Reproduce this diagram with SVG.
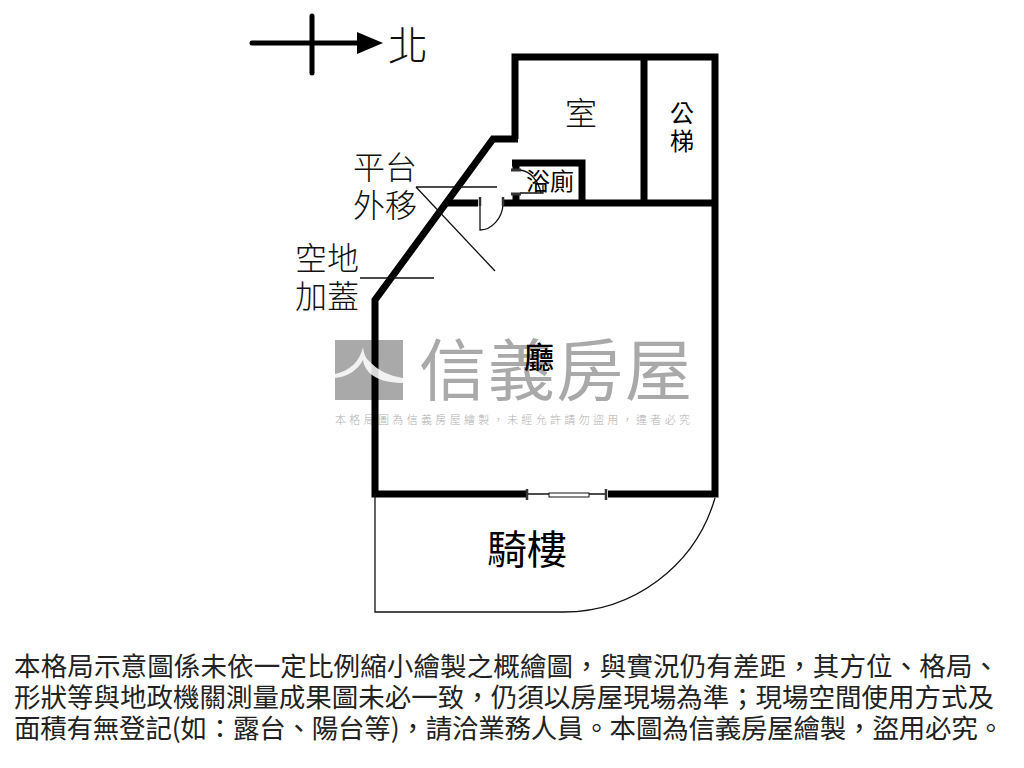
<svg xmlns="http://www.w3.org/2000/svg" width="1024" height="768" viewBox="0 0 1024 768">
<style>
text{font-family:"Noto Sans CJK TC","Noto Sans CJK SC",serif;font-weight:300;fill:#111}
.wall{fill:none;stroke:#000;stroke-width:7;stroke-linejoin:miter}
.thin{fill:none;stroke:#111;stroke-width:1.3}
.foot{font-size:26.5px;font-weight:400;fill:#222}
.dark{font-weight:400;fill:#000}
.wm{fill:#a9a9a9;font-weight:400}
</style>
<rect width="1024" height="768" fill="#fff"/>
<g id="watermark">
<rect x="335" y="340" width="68" height="60" fill="#a9a9a9"/>
<text class="wm" x="419" y="395" font-size="67" textLength="273" lengthAdjust="spacing">信義房屋</text>
<text x="335" y="424" font-size="11" textLength="355" lengthAdjust="spacing" style="fill:#b0b0b0">本格局圖為信義房屋繪製，未經允許請勿盜用，違者必究</text>
</g>
<g id="walls">
<path class="wall" d="M515 139V57H715V494H608M526 494H375V300L493 139H518"/>
<path class="wall" d="M644 57V203"/>
<path class="wall" d="M445 203H478M503 203H715"/>
<path class="wall" d="M512 163H582V203"/>
<path class="wall" d="M516 163V170M516 194V203"/>
</g>
<path d="M335 374C350 371 360 361 363 347C364 355 366 358 368 360C378 371 390 376 403 378V383C392 383 380 381 372 375C368 372 364 367 363 360C358 370 347 377 335 378Z" fill="#fff" opacity=".85"/>
<g id="connectors">
<path class="thin" d="M375 494V612H562A158 158 0 0 0 715 498"/>
<path class="thin" d="M416 187H497M416 187L495 271M360 278H434"/>
<path class="thin" d="M480 197V230C492 230 502 218 503 205"/>
<path class="thin" d="M520 170C530 171 538 180 541 193M520 193H543V185"/>
<path class="thin" d="M527 494H606" stroke-width="1.5"/>
<rect x="549" y="493" width="40" height="4" fill="#fff" stroke="#111" stroke-width="1"/>
<path d="M480 197v9M503 197v9M527 489v11M606 489v11" stroke="#333" stroke-width="2.5" fill="none"/>
<path d="M511 170h10M511 194h10" stroke="#333" stroke-width="3" fill="none"/>
</g>
<g id="compass">
<path d="M252 43H362M312 16V73" stroke="#000" stroke-width="5" stroke-linecap="round" fill="none"/>
<path d="M357 32L383 43L357 54Z" fill="#000"/>
<text x="388" y="60" font-size="40">北</text>
</g>
<g id="room-shi"><text x="565" y="125" font-size="32">室</text></g>
<g id="room-stair"><text class="dark" x="670" y="122" font-size="24">公</text><text class="dark" x="670" y="150" font-size="24">梯</text></g>
<g id="room-bath"><text class="dark" x="526" y="190" font-size="24">浴廁</text></g>
<g id="room-hall"><text class="dark" x="524" y="368" font-size="30" style="font-weight:500">廳</text></g>
<g id="room-arcade"><text class="dark" x="487" y="564" font-size="40">騎樓</text></g>
<g id="label-platform"><text x="353" y="179" font-size="32">平台</text><text x="353" y="217" font-size="32">外移</text></g>
<g id="label-vacant"><text x="295" y="270" font-size="32">空地</text><text x="295" y="308" font-size="32">加蓋</text></g>
<g id="note">
<text class="foot" x="14" y="676" textLength="985" lengthAdjust="spacing">本格局示意圖係未依一定比例縮小繪製之概繪圖，與實況仍有差距，其方位、格局、</text>
<text class="foot" x="14" y="707" textLength="980" lengthAdjust="spacing">形狀等與地政機關測量成果圖未必一致，仍須以房屋現場為準；現場空間使用方式及</text>
<text class="foot" x="14" y="738" textLength="990" lengthAdjust="spacing">面積有無登記(如：露台、陽台等)，請洽業務人員。本圖為信義房屋繪製，盜用必究。</text>
</g>
</svg>
